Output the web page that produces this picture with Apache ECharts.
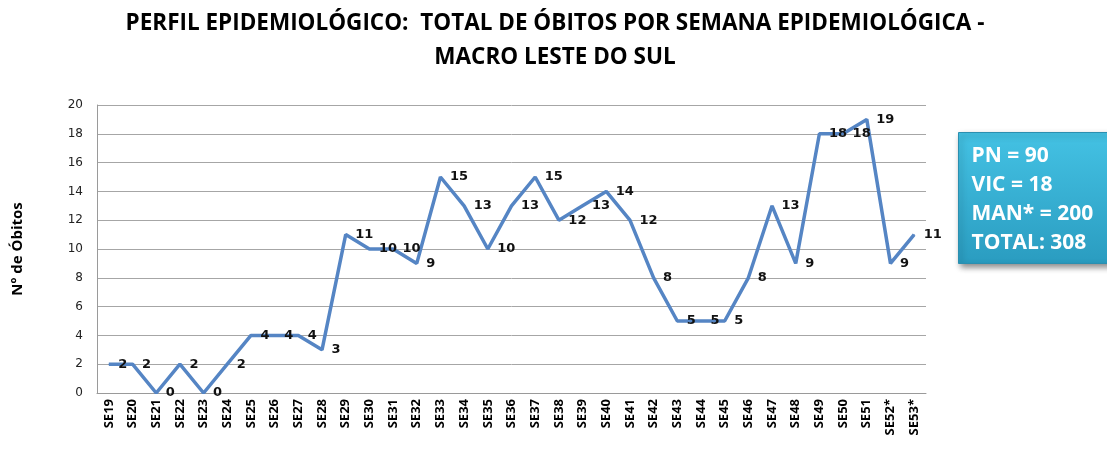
<!DOCTYPE html>
<html><head><meta charset="utf-8">
<script src="https://cdn.jsdelivr.net/npm/echarts@6/dist/echarts.min.js"></script>
<style>html,body{margin:0;padding:0;background:#fff;}#c{width:1107px;height:450px;}</style>
</head><body><div id="c"></div>
<script>
const categories = ["SE19","SE20","SE21","SE22","SE23","SE24","SE25","SE26","SE27","SE28","SE29","SE30","SE31","SE32","SE33","SE34","SE35","SE36","SE37","SE38","SE39","SE40","SE41","SE42","SE43","SE44","SE45","SE46","SE47","SE48","SE49","SE50","SE51","SE52*","SE53*"];
const obitos = [2,2,0,2,0,2,4,4,4,3,11,10,10,9,15,13,10,13,15,12,13,14,12,8,5,5,5,8,13,9,18,18,19,9,11];
const yTicks = {min:0, max:20, interval:2};
const titleLines = ["PERFIL EPIDEMIOLÓGICO:  TOTAL DE ÓBITOS POR SEMANA EPIDEMIOLÓGICA -", "MACRO LESTE DO SUL"];
const boxLines = ["PN = 90","VIC = 18","MAN* = 200","TOTAL: 308"];

const chart = echarts.init(document.getElementById('c'));
chart.setOption({
  animation:false,
  title:{text:titleLines.join('\n'), left:550, top:2, textAlign:'center',
    textStyle:{fontFamily:'Open Sans', fontWeight:'bold', fontSize:22.5, lineHeight:34, color:'#000'}},
  grid:{left:97, right:181, top:105, bottom:57},
  xAxis:{type:'category', data:categories, boundaryGap:true,
    axisLine:{lineStyle:{color:'#9a9a9a'}}, axisTick:{show:false},
    axisLabel:{rotate:90, interval:0, fontFamily:'Open Sans', fontWeight:'bold', fontSize:13, color:'#000', margin:6}},
  yAxis:{type:'value', min:yTicks.min, max:yTicks.max, interval:yTicks.interval,
    name:'Nº de Óbitos', nameLocation:'middle', nameGap:72, nameRotate:90,
    nameTextStyle:{fontFamily:'Open Sans', fontWeight:'bold', fontSize:15, color:'#000'},
    axisLine:{show:true, lineStyle:{color:'#9a9a9a'}}, axisTick:{show:false},
    splitLine:{lineStyle:{color:'#a6a6a6'}},
    axisLabel:{fontFamily:'DejaVu Sans', fontSize:12, color:'#222', margin:14}},
  series:[{type:'line', data:obitos, symbol:'circle', symbolSize:1, showSymbol:true,
    itemStyle:{color:'#5585c4'},
    lineStyle:{color:'#5585c4', width:3.5},
    labelLayout:{hideOverlap:false},
    label:{show:true, position:'right', distance:9, offset:[0,2], fontFamily:'DejaVu Sans', fontWeight:'bold', fontSize:13, color:'#111'}}],
  graphic:[{type:'group', left:958, top:132, children:[
    {type:'rect', shape:{x:0,y:0,width:160,height:131},
      style:{fill:new echarts.graphic.LinearGradient(0,0,0,1,[{offset:0,color:'#44c2e4'},{offset:1,color:'#2a9cc0'}]),
        stroke:'#2b8fb0', lineWidth:1, shadowBlur:6, shadowOffsetX:2, shadowOffsetY:3, shadowColor:'rgba(0,0,0,0.45)'}},
    {type:'text', left:13, top:9, style:{text:boxLines.join('\n'), fill:'#fff', fontFamily:'Open Sans', fontWeight:'bold', fontSize:21, lineHeight:29}}
  ]}]
});
</script></body></html>
